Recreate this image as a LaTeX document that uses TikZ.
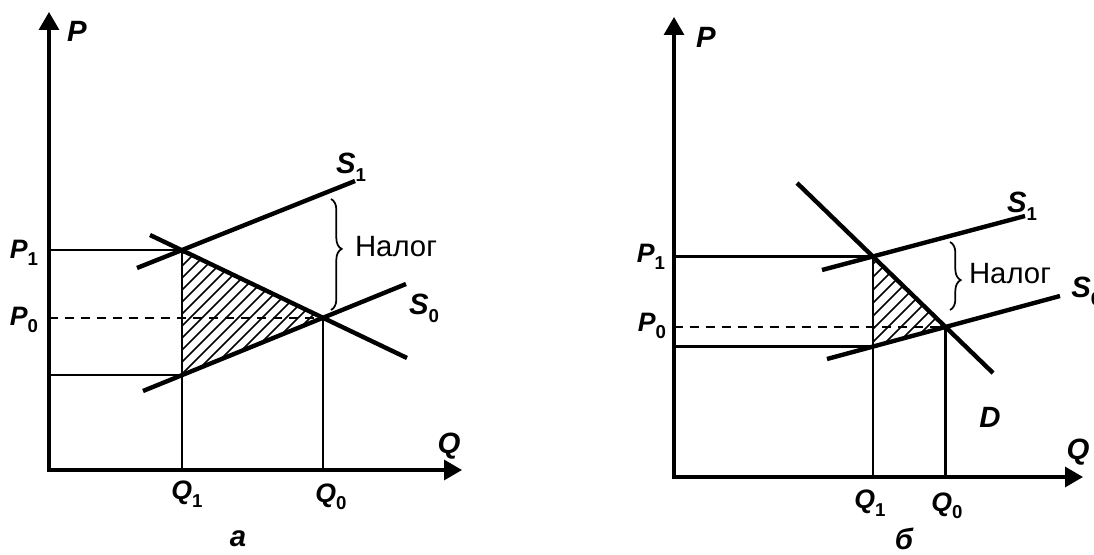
\documentclass[tikz,border=0pt]{standalone}
\usepackage{fontspec}
\setmainfont{Liberation Sans}
\usetikzlibrary{arrows.meta,decorations.pathreplacing,calc}
\newcommand{\vsub}[2]{#1\raisebox{-0.28em}{\fontsize{14}{14}\selectfont\upshape #2}}
\begin{document}
\begin{tikzpicture}[x=0.75pt,y=-0.75pt,
  axis/.style={line width=2.4pt, {Triangle[length=13.5pt,width=15pt]}-{Triangle[length=13.5pt,width=15pt]}},
  curve/.style={line width=3.3pt},
  thinline/.style={line width=1.7pt},
  guide/.style={line width=1.7pt, dash pattern=on 7pt off 5pt},
  hatch/.style={line width=1.1pt},
  taxbrace/.style={line width=1.3pt, decorate, decoration={brace, amplitude=8pt, aspect=#1}},
  biglab/.style={font=\fontsize{22}{22}\selectfont\bfseries\itshape, inner sep=0pt},
  lab/.style={font=\fontsize{20}{20}\selectfont\bfseries\itshape, inner sep=0pt},
  txt/.style={font=\fontsize{22}{22}\selectfont, inner sep=0pt}]
\useasboundingbox (0,0) rectangle (1094,555);

% ---------------- panel a ----------------
\coordinate (aO) at (49,470);
\coordinate (aY) at (49,12);
\coordinate (aX) at (462,470);
\coordinate (aS1s) at (137,268);
\coordinate (aS1e) at (355,181);
\coordinate (aS0s) at (143,391);
\coordinate (aS0e) at (406,284);
\coordinate (aDs) at (150,235);
\coordinate (aDe) at (407,358);
\coordinate (aE1) at (intersection of aS1s--aS1e and aDs--aDe);
\coordinate (aE0) at (intersection of aS0s--aS0e and aDs--aDe);
\coordinate (aQ1) at (aE1 |- aO);
\coordinate (aQ0) at (aE0 |- aO);
\coordinate (aL) at (intersection of aS0s--aS0e and aE1--aQ1);

\begin{scope}
  \clip (aE1) -- (aE0) -- (aL) -- cycle;
  \foreach \k in {-200,-188,...,400} \draw[hatch] (\k,420) -- ++(300,-300);
\end{scope}

\draw[thinline] (aO |- aE1) -- (aE1);
\draw[thinline] (aO |- aL) -- (aL);
\draw[thinline] (aQ1) -- (aE1);
\draw[thinline] (aQ0) -- (aE0);
\draw[guide] (aO |- aE0) -- (aE0);

\draw[curve] (aS1s) -- (aS1e);
\draw[curve] (aS0s) -- (aS0e);
\draw[curve] (aDs) -- (aDe);

\draw[axis] (aY) -- (aO) -- (aX);
\draw[taxbrace=0.45] (331,199) -- (331,310);

\node[biglab] (aP) at (77,31) {P};
\node[biglab] (aQ) at (449,446) {Q};
\node[lab] (aP1) at (24,253) {\vsub{P}{1}};
\node[lab] (aP0) at (24,320) {\vsub{P}{0}};
\node[lab] (aQ1l) at (187,494) {\vsub{Q}{1}};
\node[lab] (aQ0l) at (331,497) {\vsub{Q}{0}};
\node[biglab] (aS1l) at (351,167) {\vsub{S}{1}};
\node[biglab] (aS0l) at (424,308) {\vsub{S}{0}};
\node[txt] (aTax) at (396,247) {Налог};
\node[biglab] (aCap) at (238,539) {а};

% ---------------- panel b ----------------
\coordinate (bO) at (674,477);
\coordinate (bY) at (674,17);
\coordinate (bX) at (1083,477);
\coordinate (bS1s) at (822,270);
\coordinate (bS1e) at (1025,216);
\coordinate (bS0s) at (827,359);
\coordinate (bS0e) at (1060,296);
\coordinate (bDs) at (797,183);
\coordinate (bDe) at (993,373);
\coordinate (bE1) at (intersection of bS1s--bS1e and bDs--bDe);
\coordinate (bE0) at (intersection of bS0s--bS0e and bDs--bDe);
\coordinate (bQ1) at (bE1 |- bO);
\coordinate (bQ0) at (bE0 |- bO);
\coordinate (bL) at (intersection of bS0s--bS0e and bE1--bQ1);

\begin{scope}
  \clip (bE1) -- (bE0) -- (bL) -- cycle;
  \foreach \k in {600,613,...,1000} \draw[hatch] (\k,420) -- ++(250,-250);
\end{scope}

\draw[thinline] (bO |- bE1) -- (bE1);
\draw[thinline] (bO |- bL) -- (bL);
\draw[thinline] (bQ1) -- (bE1);
\draw[thinline] (bQ0) -- (bE0);
\draw[guide] (bO |- bE0) -- (bE0);

\draw[curve] (bS1s) -- (bS1e);
\draw[curve] (bS0s) -- (bS0e);
\draw[curve] (bDs) -- (bDe);

\draw[axis] (bY) -- (bO) -- (bX);
\draw[taxbrace=0.56] (950,242) -- (950,310);

\node[biglab] (bP) at (706,37) {P};
\node[biglab] (bQ) at (1078,452) {Q};
\node[lab] (bP1) at (651,257) {\vsub{P}{1}};
\node[lab] (bP0) at (652,326) {\vsub{P}{0}};
\node[lab] (bQ1l) at (870,503) {\vsub{Q}{1}};
\node[lab] (bQ0l) at (947,506) {\vsub{Q}{0}};
\node[biglab] (bS1l) at (1022,206) {\vsub{S}{1}};
\node[biglab,anchor=west] (bS0l) at (1071,291) {\vsub{S}{0}};
\node[biglab] (bD) at (990,417) {D};
\node[txt] (bTax) at (1010,274) {Налог};
\node[biglab] (bCap) at (904,539) {б};
\end{tikzpicture}
\end{document}
